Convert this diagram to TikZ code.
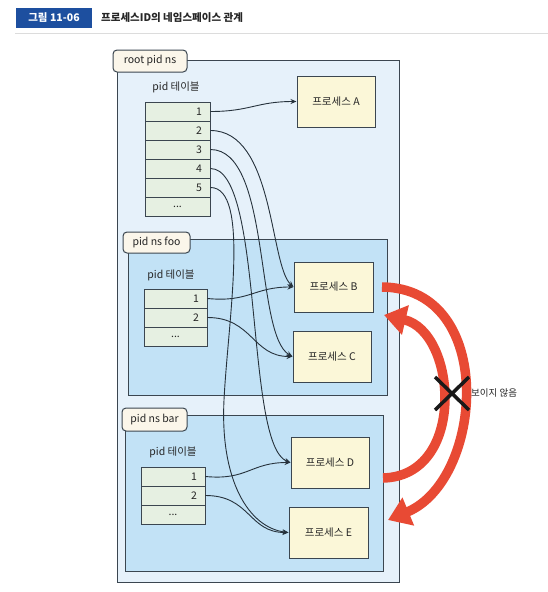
\documentclass[tikz,border=0pt]{standalone}
\usepackage{fontspec}
\setmainfont{Noto Sans CJK KR}
\usetikzlibrary{arrows.meta,calc}
\definecolor{frame}{HTML}{3B4650}
\definecolor{rootfill}{HTML}{E6F1FA}
\definecolor{nsfill}{HTML}{C2E2F6}
\definecolor{procfill}{HTML}{FBF7D8}
\definecolor{cellfill}{HTML}{E6F0E2}
\definecolor{tagfill}{HTML}{FBF6EA}
\definecolor{lineclr}{HTML}{26323C}
\definecolor{redclr}{HTML}{E84A34}
\definecolor{titleblue}{HTML}{1D4F9F}
\definecolor{rulegray}{HTML}{DCDCDC}
\begin{document}
\begin{tikzpicture}[x=1pt,y=-1pt,
  every node/.style={font=\fontsize{10.5}{12}\selectfont},
  titletag/.style={fill=titleblue, text=white, font=\bfseries\fontsize{10.5}{12}\selectfont, minimum width=76pt, minimum height=20pt, inner sep=0pt},
  titletext/.style={text=black!85, font=\bfseries\fontsize{10.5}{12}\selectfont, inner sep=0pt, anchor=west},
  rootbox/.style={draw=frame, fill=rootfill, line width=1pt, inner sep=0pt},
  nsbox/.style={draw=frame, fill=nsfill, line width=1pt, inner sep=0pt},
  nstag/.style={draw=frame, fill=tagfill, rounded corners=4pt, line width=1pt, inner sep=0pt, text=black!85},
  proc/.style={draw=frame, fill=procfill, line width=1pt, minimum width=78pt, minimum height=51pt, inner sep=0pt, text=black!85},
  cell/.style={draw=frame, fill=cellfill, line width=0.9pt, minimum height=19pt, inner xsep=8pt, inner ysep=0pt, text width=#1, align=right, text=black!85},
  dots/.style={align=center},
  tbltitle/.style={text=black!85, inner sep=0pt},
  conn/.style={draw=lineclr, line width=0.9pt, -{Stealth[length=6pt,width=5pt]}},
  redarc/.style={draw=redclr, line width=9.5pt, -{Triangle[length=22pt,width=29pt]}},
  cross/.style={draw=black!90, line width=3.5pt},
]
\useasboundingbox (0,0) rectangle (548,592);
\fill[white] (0,0) rectangle (548,592);

% header
\node[titletag] (tag) at (54,18) {그림 11-06};
\node[titletext] (title) at (101,18) {프로세스ID의 네임스페이스 관계};
\draw[rulegray, line width=1.5pt] (15,33.5) -- (548,33.5);

% root namespace
\node[rootbox, minimum width=282pt, minimum height=522pt] (root) at (258,321) {};
\node[nstag, minimum width=74pt, minimum height=22pt] (roottag) at (150,61) {root pid ns};
\node[tbltitle] (rtt) at (176,87) {pid 테이블};
\node[proc] (pA) at (336,101.5) {프로세스 A};
\node[cell=49pt] (r1) at (177.5,111.5) {1};
\node[cell=49pt] (r2) at (177.5,130.5) {2};
\node[cell=49pt] (r3) at (177.5,149.5) {3};
\node[cell=49pt] (r4) at (177.5,168.5) {4};
\node[cell=49pt] (r5) at (177.5,187.5) {5};
\node[cell=49pt, dots] (r6) at (177.5,206.5) {...};

% foo namespace
\node[nsbox, minimum width=259pt, minimum height=156pt] (foo) at (257.5,317) {};
\node[nstag, minimum width=67pt, minimum height=21pt] (footag) at (156.5,242.5) {pid ns foo};
\node[tbltitle] (ftt) at (171,275) {pid 테이블};
\node[cell=47pt] (f1) at (175.5,298.5) {1};
\node[cell=47pt] (f2) at (175.5,317.5) {2};
\node[cell=47pt, dots] (f3) at (175.5,336.5) {...};
\node[proc, minimum width=79pt, minimum height=50pt] (pB) at (333.5,287) {프로세스 B};
\node[proc] (pC) at (332,356.5) {프로세스 C};

% bar namespace
\node[nsbox, minimum width=258pt, minimum height=156pt] (bar) at (254,493) {};
\node[nstag, minimum width=65pt, minimum height=23pt] (bartag) at (154.5,419.5) {pid ns bar};
\node[tbltitle] (btt) at (173,452) {pid 테이블};
\node[cell=48pt] (b1) at (173,476.5) {1};
\node[cell=48pt] (b2) at (173,495.5) {2};
\node[cell=48pt, dots] (b3) at (173,514.5) {...};
\node[proc] (pD) at (330,462.5) {프로세스 D};
\node[proc, minimum width=79pt] (pE) at (328.5,532.5) {프로세스 E};

% connectors
\coordinate (w5) at (224,400);
\draw[conn] (r1.east) .. controls +(40,0) and +(-40,0) .. (pA.west);
\draw[conn] (r2.east) .. controls +(64,0) and +(-24,-22) .. (pB.west);
\draw[conn] (r3.east) .. controls +(61,0) and +(-38,-21) .. (pC.west);
\draw[conn] (r4.east) .. controls +(54,0) and +(-46,-17) .. (pD.west);
\draw[conn] (r5.east) .. controls +(40,0) and +(4,-80) .. (w5) .. controls +(-4,80) and +(-40,-5) .. (pE.west);
\draw[conn] (f1.east) .. controls +(42,4) and +(-40,0) .. (pB.west);
\draw[conn] (f2.east) .. controls +(45,0) and +(-40,0) .. (pC.west);
\draw[conn] (b1.east) .. controls +(42,4) and +(-40,0) .. (pD.west);
\draw[conn] (b2.east) .. controls +(45,0) and +(-40,0) .. (pE.west);

% visibility arcs
\coordinate (oS) at (382,287);
\coordinate (oE) at (388,520);
\coordinate (iS) at (383,478);
\coordinate (iE) at (384,315);
\draw[redarc] (oS) .. controls (497,288) and (484,480) .. (oE);
\draw[redarc] (iS) .. controls (467,476) and (457,332) .. (iE);
\coordinate (xc) at (452,393);
\draw[cross] ($(xc)+(-17,-16)$) -- ($(xc)+(17,17)$);
\draw[cross] ($(xc)+(17,-16)$) -- ($(xc)+(-17,17)$);
\node[text=black!85, anchor=west, inner sep=0pt, font=\fontsize{9.5}{11}\selectfont] (nv) at (471,393) {보이지 않음};
\end{tikzpicture}
\end{document}
